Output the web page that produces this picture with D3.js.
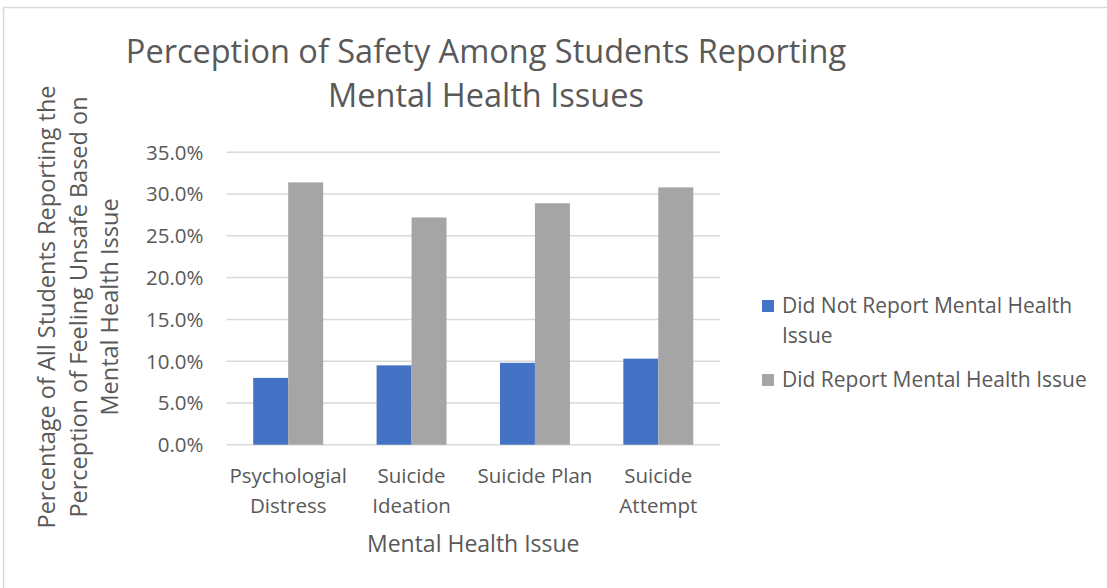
<!DOCTYPE html>
<html>
<head>
<meta charset="utf-8">
<script src="https://cdn.jsdelivr.net/npm/d3@7"></script>
<style>
  body { margin: 0; background: #fff; }
  text { font-family: "Open Sans", "Noto Sans", sans-serif; fill: #595959; }
</style>
</head>
<body>
<div id="chart"></div>
<script>
// data
var categories = [["Psychologial", "Distress"], ["Suicide", "Ideation"], ["Suicide Plan"], ["Suicide", "Attempt"]];
var seriesNames = ["Did Not Report Mental Health Issue", "Did Report Mental Health Issue"];
var notReported = [8.0, 9.5, 9.8, 10.3];
var reported = [31.4, 27.2, 28.9, 30.8];
var yTicks = [0, 5, 10, 15, 20, 25, 30, 35];
var colors = ["#4472c4", "#a5a5a5"];

var W = 1107, H = 588;
var margin = {top: 152.3, right: 387, bottom: 143.3, left: 226.5};
var width = W - margin.left - margin.right,
    height = H - margin.top - margin.bottom;

var svgRoot = d3.select("#chart").append("svg")
  .attr("width", W)
  .attr("height", H);

// chart border
svgRoot.append("rect")
  .attr("x", 3.5).attr("y", 7.5)
  .attr("width", W + 10).attr("height", H + 10)
  .attr("fill", "none")
  .attr("stroke", "#d9d9d9")
  .attr("stroke-width", 1.5);

var svg = svgRoot.append("g")
  .attr("transform", "translate(" + margin.left + "," + margin.top + ")");

var x = d3.scaleBand()
  .domain(d3.range(categories.length))
  .range([0, width])
  .paddingInner(0.433)
  .paddingOuter(0.2165);

var xs = d3.scaleBand()
  .domain([0, 1])
  .range([0, x.bandwidth()]);

var y = d3.scaleLinear()
  .domain([0, 35])
  .range([height, 0]);

// gridlines
svg.append("g")
  .selectAll("line")
  .data(yTicks)
  .enter().append("line")
  .attr("x1", 0).attr("x2", width)
  .attr("y1", function(d) { return y(d); })
  .attr("y2", function(d) { return y(d); })
  .attr("stroke", "#d9d9d9")
  .attr("stroke-width", 1.5);

// y tick labels
svg.append("g")
  .selectAll("text")
  .data(yTicks)
  .enter().append("text")
  .attr("x", -23)
  .attr("y", function(d) { return y(d); })
  .attr("dy", "0.36em")
  .attr("text-anchor", "end")
  .style("font-size", "20.5px")
  .text(function(d) { return d.toFixed(1) + "%"; });

// bars
var series = [notReported, reported];
var groups = svg.append("g")
  .selectAll("g")
  .data(categories)
  .enter().append("g")
  .attr("transform", function(d, i) { return "translate(" + x(i) + ",0)"; });

groups.selectAll("rect")
  .data(function(d, i) { return series.map(function(s, k) { return {k: k, v: s[i]}; }); })
  .enter().append("rect")
  .attr("x", function(d) { return xs(d.k); })
  .attr("width", xs.bandwidth())
  .attr("y", function(d) { return y(d.v); })
  .attr("height", function(d) { return height - y(d.v); })
  .attr("fill", function(d) { return colors[d.k]; });

// x category labels
groups.append("text")
  .attr("x", x.bandwidth() / 2)
  .attr("text-anchor", "middle")
  .style("font-size", "20.5px")
  .selectAll("tspan")
  .data(function(d) { return d; })
  .enter().append("tspan")
  .attr("x", x.bandwidth() / 2)
  .attr("y", function(d, i) { return height + 38 + i * 30; })
  .text(function(d) { return d; });

// x axis title
svg.append("text")
  .attr("x", width / 2)
  .attr("y", height + 107)
  .attr("text-anchor", "middle")
  .style("font-size", "23px")
  .text("Mental Health Issue");

// y axis title
var yTitle = ["Percentage of All Students Reporting the", "Perception of Feeling Unsafe Based on", "Mental Health Issue"];
svgRoot.append("text")
  .attr("transform", "translate(0,307) rotate(-90)")
  .attr("text-anchor", "middle")
  .style("font-size", "23.5px")
  .selectAll("tspan")
  .data(yTitle)
  .enter().append("tspan")
  .attr("x", 0)
  .attr("y", function(d, i) { return 55 + i * 31.5; })
  .text(function(d) { return d; });

// chart title
var title = ["Perception of Safety Among Students Reporting", "Mental Health Issues"];
svgRoot.append("text")
  .attr("text-anchor", "middle")
  .style("font-size", "32.5px")
  .selectAll("tspan")
  .data(title)
  .enter().append("tspan")
  .attr("x", 486)
  .attr("y", function(d, i) { return 63 + i * 44; })
  .text(function(d) { return d; });

// legend
var legend = svgRoot.append("g").attr("transform", "translate(762,0)");
var legendLines = [["Did Not Report Mental Health", "Issue"], ["Did Report Mental Health Issue"]];
var legendY = [300, 374];
legendLines.forEach(function(lines, k) {
  legend.append("rect")
    .attr("x", 0).attr("y", legendY[k])
    .attr("width", 12).attr("height", 12)
    .attr("fill", colors[k]);
  legend.append("text")
    .style("font-size", "21px")
    .selectAll("tspan")
    .data(lines)
    .enter().append("tspan")
    .attr("x", 20)
    .attr("y", function(d, i) { return legendY[k] + 13 + i * 30; })
    .text(function(d) { return d; });
});
</script>
</body>
</html>
